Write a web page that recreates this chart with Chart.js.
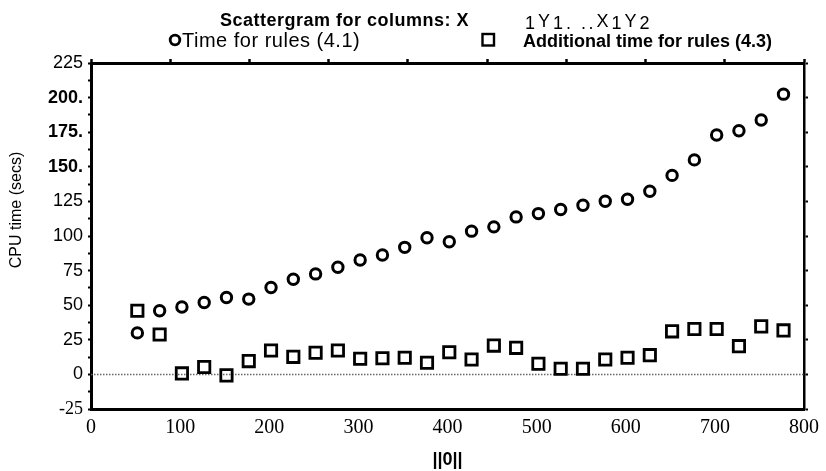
<!DOCTYPE html>
<html><head><meta charset="utf-8">
<script src="https://cdn.jsdelivr.net/npm/chart.js@4.4.1/dist/chart.umd.min.js"></script>
<style>html,body{margin:0;padding:0;background:#fff;}#wrap{width:826px;height:471px;position:relative;}</style>
</head><body><div id="wrap"><canvas id="c" width="826" height="471"></canvas></div>
<script>
// ---- data ----
const xValues = [52,77,102,127,152,177,202,227,252,277,302,327,352,377,402,427,452,477,502,527,552,577,602,627,652,677,702,727,752,777];
const ruleTime = [30,46,48.7,52,55.6,54.4,62.8,68.8,72.6,77.4,82.7,86.3,91.8,98.7,95.8,103.5,106.6,113.8,116.2,119.1,122.2,125.1,126.5,132.3,143.8,155,173,176.1,183.8,202.5];
const additionalTime = [46,28.8,0.7,5.3,-0.7,9.6,17.3,12.7,15.6,17.3,11.3,11.7,12,8.4,16,10.8,20.8,19.2,7.7,4.1,4.1,10.8,12,13.9,31.1,32.8,32.8,20.4,34.7,31.8];
const seriesLabels = ['Time for rules (4.1)', 'Additional time for rules (4.3)'];
const titleText = 'Scattergram for columns: X';
const titleSuffix = ['1','Y','1','. ..','X','1','Y','2'];
const xAxisTitle = '||0||';
const yAxisTitle = 'CPU time (secs)';
const xTickValues = [0,100,200,300,400,500,600,700,800];
const yTickLabels = {'225':'225','200':'200.','175':'175.','150':'150.','125':'125','100':'100','75':'75','50':'50','25':'25','0':'0','-25':'-25'};

const SANS = "'Liberation Sans', Arial, sans-serif";
const SERIF = "'Liberation Serif', 'Times New Roman', serif";

const pts = (ys) => ys.map((y, i) => ({x: xValues[i], y}));

const decor = {
  id: 'decor',
  beforeDatasetsDraw(chart) {
    const {ctx, chartArea, scales} = chart;
    const y0 = scales.y.getPixelForValue(0);
    ctx.save();
    ctx.strokeStyle = '#666';
    ctx.lineWidth = 1.5;
    ctx.setLineDash([1.5, 1.5]);
    ctx.beginPath();
    ctx.moveTo(chartArea.left, y0);
    ctx.lineTo(chartArea.right, y0);
    ctx.stroke();
    ctx.restore();
  },
  afterDraw(chart) {
    const {ctx} = chart;
    ctx.save();
    ctx.fillStyle = '#000';
    ctx.textBaseline = 'alphabetic';
    // title
    ctx.font = 'bold 18px ' + SANS;
    ctx.letterSpacing = '0.5px';
    ctx.fillText(titleText, 220, 26);
    // title suffix
    ctx.font = '18px ' + SANS;
    ctx.letterSpacing = '2.5px';
    let x = 525;
    titleSuffix.forEach((s) => {
      const dy = (s === 'Y' || s === 'X') ? 0 : 2;
      ctx.fillText(s, x, 27 + dy);
      x += ctx.measureText(s).width + 0.5;
    });
    // legend
    ctx.letterSpacing = '0px';
    ctx.strokeStyle = '#000';
    ctx.lineWidth = 2.8;
    ctx.beginPath();
    ctx.arc(175, 40, 4.8, 0, Math.PI * 2);
    ctx.stroke();
    ctx.font = '20px ' + SANS;
    ctx.letterSpacing = '0.5px';
    ctx.fillText(chart.data.datasets[0].label, 182, 46.5);
    ctx.lineWidth = 2.4;
    ctx.strokeRect(482.5, 34, 11.5, 11.5);
    ctx.font = 'bold 18px ' + SANS;
    ctx.letterSpacing = '0px';
    ctx.fillText(chart.data.datasets[1].label, 523, 46.5);
    // y axis title
    ctx.translate(17, 210);
    ctx.rotate(-Math.PI / 2);
    ctx.textAlign = 'center';
    ctx.textBaseline = 'middle';
    ctx.font = '16px ' + SANS;
    ctx.fillText(yAxisTitle, 0, 0);
    ctx.restore();
  }
};

new Chart(document.getElementById('c'), {
  type: 'scatter',
  data: {
    datasets: [
      {label: seriesLabels[0], data: pts(ruleTime), pointStyle: 'circle', pointRadius: 5.2,
       borderColor: '#000', backgroundColor: 'rgba(0,0,0,0)', borderWidth: 3, xAxisID: 'x', yAxisID: 'y'},
      {label: seriesLabels[1], data: pts(additionalTime), pointStyle: 'rect', pointRadius: 8,
       borderColor: '#000', backgroundColor: 'rgba(0,0,0,0)', borderWidth: 2.8, xAxisID: 'x', yAxisID: 'y'}
    ]
  },
  options: {
    responsive: false,
    animation: false,
    events: [],
    layout: {padding: 0},
    plugins: {legend: {display: false}, title: {display: false}, tooltip: {enabled: false}},
    scales: {
      x: {
        type: 'linear', position: 'bottom', min: 0, max: 800,
        afterBuildTicks: (s) => { s.ticks = xTickValues.map(v => ({value: v})); },
        afterFit: (s) => { s.height = 62; },
        grid: {display: false, drawTicks: false},
        border: {display: true, color: '#000', width: 3},
        ticks: {autoSkip: false, maxRotation: 0, padding: 7, color: '#000', font: {family: SERIF, size: 20}},
        title: {display: true, text: xAxisTitle, color: '#000', padding: {top: 0, bottom: 0}, font: {family: SANS, size: 18, weight: 'bold'}}
      },
      x2: {
        type: 'linear', position: 'top', min: 0, max: 900,
        afterFit: (s) => { s.height = 63; },
        grid: {display: true, drawOnChartArea: false, drawTicks: true, tickLength: 4, tickWidth: 2.5, tickColor: '#000', color: '#000'},
        border: {display: true, color: '#000', width: 3},
        ticks: {display: false, stepSize: 100, autoSkip: false}
      },
      y: {
        type: 'linear', position: 'left', min: -25, max: 225,
        afterFit: (s) => { s.width = 91; },
        grid: {display: true, drawOnChartArea: false, drawTicks: true, tickLength: 3, tickWidth: 2, tickColor: '#000', color: '#000'},
        border: {display: true, color: '#000', width: 3},
        ticks: {
          stepSize: 12.5, autoSkip: false, padding: 5, color: '#000',
          callback: (v) => (yTickLabels[String(v)] !== undefined ? yTickLabels[String(v)] : ''),
          font: (ctx) => {
            const v = ctx.tick ? ctx.tick.value : null;
            if (v === 200 || v === 175 || v === 150) return {family: SANS, size: 18, weight: 'bold'};
            if (v === -25) return {family: SERIF, size: 18};
            return {family: SANS, size: 18};
          }
        },
        title: {display: false}
      },
      y2: {
        type: 'linear', position: 'right', min: -25, max: 225,
        afterFit: (s) => { s.width = 20; },
        grid: {display: true, drawOnChartArea: false, drawTicks: true, tickLength: 4, tickWidth: 2, tickColor: '#000', color: '#000'},
        border: {display: true, color: '#000', width: 2.5},
        ticks: {display: false, stepSize: 25, autoSkip: false}
      }
    }
  },
  plugins: [decor]
});
</script></body></html>
